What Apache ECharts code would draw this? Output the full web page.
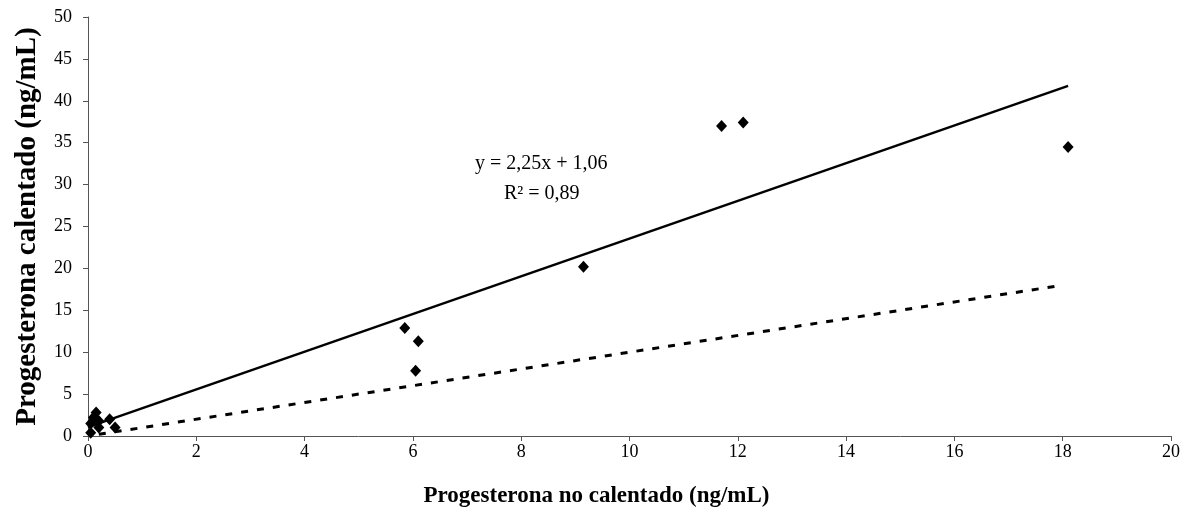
<!DOCTYPE html>
<html>
<head>
<meta charset="utf-8">
<script src="https://cdn.jsdelivr.net/npm/echarts@6/dist/echarts.min.js"></script>
<style>html,body{margin:0;padding:0;background:#fff;}#c{width:1192px;height:528px;}</style>
</head>
<body>
<div id="c"></div>
<script>
// Data
const xValues = [0.15, 0.10, 0.05, 0.20, 0.20, 0.40, 0.50, 0.05, 5.85, 6.10, 6.05, 9.15, 11.70, 12.10, 18.10];
const yValues = [2.8, 2.2, 1.5, 1.8, 1.0, 2.0, 1.0, 0.4, 12.9, 11.3, 7.8, 20.2, 37.0, 37.4, 34.5];
const regressionX = [0, 18.1];
const regressionSlope = 2.25;
const regressionIntercept = 1.06;
const identityX = [0.2, 17.9];
const xTicks = [0, 2, 4, 6, 8, 10, 12, 14, 16, 18, 20];
const yTicks = [0, 5, 10, 15, 20, 25, 30, 35, 40, 45, 50];
const xTitle = 'Progesterona no calentado (ng/mL)';
const yTitle = 'Progesterona calentado (ng/mL)';
const equationText = 'y = 2,25x + 1,06';
const r2Text = 'R\u00B2 = 0,89';

const points = xValues.map((x, i) => [x, yValues[i]]);
const regLine = regressionX.map(x => [x, regressionSlope * x + regressionIntercept]);
const idLine = identityX.map(x => [x, x]);

const serif = '"Liberation Serif", "Times New Roman", serif';
const chart = echarts.init(document.getElementById('c'));
chart.setOption({
  animation: false,
  backgroundColor: '#fff',
  grid: {left: 88, right: 21, top: 17, bottom: 92},
  xAxis: {
    type: 'value', min: xTicks[0], max: xTicks[xTicks.length - 1], interval: 2,
    axisLine: {show: true, lineStyle: {color: '#555', width: 1}},
    axisTick: {show: true, inside: false, length: 5, lineStyle: {color: '#555'}},
    splitLine: {show: false},
    axisLabel: {color: '#000', fontFamily: serif, fontSize: 18, margin: 7},
    name: xTitle, nameLocation: 'middle', nameGap: 49,
    nameTextStyle: {color: '#000', fontFamily: serif, fontSize: 23, fontWeight: 'bold', padding: [0, 66, 0, 0]}
  },
  yAxis: {
    type: 'value', min: yTicks[0], max: yTicks[yTicks.length - 1], interval: 5,
    axisLine: {show: true, lineStyle: {color: '#555', width: 1}},
    axisTick: {show: true, inside: false, length: 5, lineStyle: {color: '#555'}},
    splitLine: {show: false},
    axisLabel: {color: '#000', fontFamily: serif, fontSize: 18, margin: 16},
    name: yTitle, nameLocation: 'middle', nameGap: 46, nameRotate: 90,
    nameTextStyle: {color: '#000', fontFamily: serif, fontSize: 29, fontWeight: 'bold'}
  },
  series: [
    {
      type: 'line', data: regLine, symbol: 'none', silent: true,
      lineStyle: {color: '#000', width: 2.5}, z: 2
    },
    {
      type: 'line', data: idLine, symbol: 'none', silent: true,
      lineStyle: {color: '#000', width: 3, type: [7, 9]}, z: 2
    },
    {
      type: 'scatter', data: points, symbol: 'diamond', symbolSize: [11, 12],
      itemStyle: {color: '#000', opacity: 1}, z: 3
    }
  ],
  graphic: [
    {
      type: 'text', left: 475, top: 154,
      style: {text: equationText, fontFamily: serif, fontSize: 20, fill: '#000'}
    },
    {
      type: 'text', left: 504, top: 184,
      style: {text: r2Text, fontFamily: serif, fontSize: 20, fill: '#000'}
    }
  ]
});
</script>
</body>
</html>
